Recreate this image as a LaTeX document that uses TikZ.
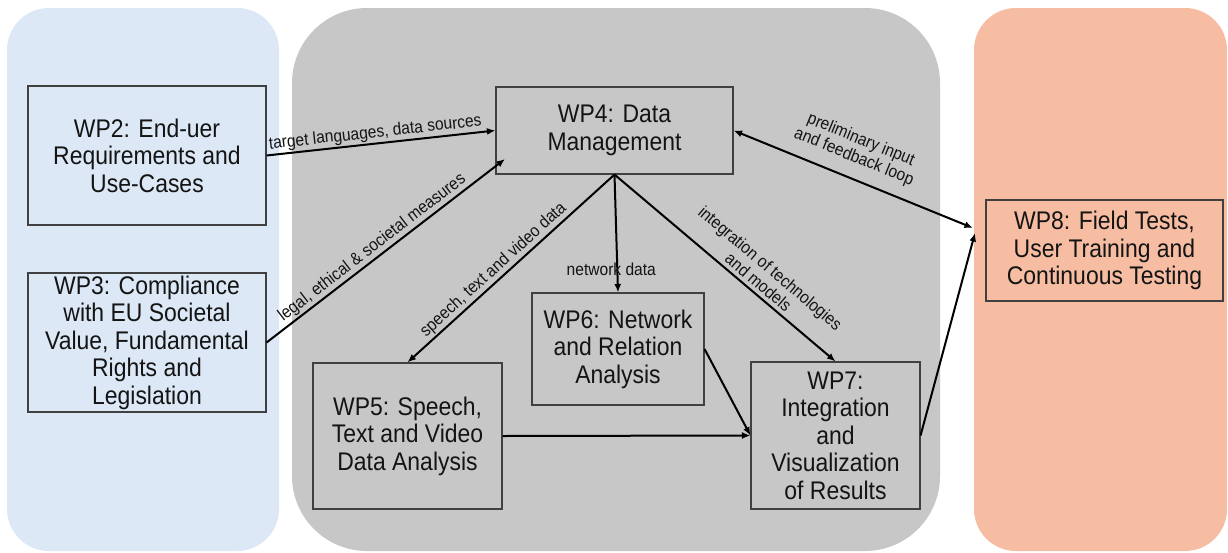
\documentclass[tikz,border=0pt]{standalone}
\usepackage{fontspec}
\newfontfamily\wpfont{Liberation Sans}[FakeStretch=0.9]
\usetikzlibrary{arrows.meta}
\definecolor{bluepanel}{RGB}{220,232,245}
\definecolor{graypanel}{RGB}{199,199,199}
\definecolor{orangepanel}{RGB}{246,189,163}
\definecolor{boxline}{RGB}{64,64,64}
\definecolor{txt}{RGB}{20,20,20}
\begin{document}
\begin{tikzpicture}[x=1pt,y=-1pt,
  wpbox/.style={draw=boxline, line width=1.1pt, align=center, inner sep=0pt,
    text=txt, font=\wpfont\fontsize{25.5}{27.5}\selectfont},
  lbl/.style={text=txt, align=center, font=\wpfont\fontsize{17.3}{18.5}\selectfont, inner sep=1.5pt},
  arr/.style={line width=2pt, -{Latex[length=8.5pt,width=7pt]}},
  darr/.style={line width=2pt, {Latex[length=8.5pt,width=7pt]}-{Latex[length=8.5pt,width=7pt]}}
]
\useasboundingbox (0,0) rectangle (1228,552);
\fill[white] (0,0) rectangle (1228,552);
% panels
\fill[bluepanel, rounded corners=42pt] (7,8) rectangle (279,551);
\fill[graypanel, rounded corners=75pt] (292,8) rectangle (940,551);
\fill[orangepanel, rounded corners=42pt] (974,8) rectangle (1227,551);
% boxes
\node[wpbox, minimum width=238pt, minimum height=139pt] (wp2) at (147,155.5)
  {WP2: End-uer\\Requirements and\\Use-Cases};
\node[wpbox, minimum width=238pt, minimum height=139pt] (wp3) at (147,342.5)
  {WP3: Compliance\\with EU Societal\\Value, Fundamental\\Rights and\\Legislation};
\node[wpbox, minimum width=237pt, minimum height=87pt] (wp4) at (614.5,130.5)
  {WP4: Data\\Management};
\node[wpbox, minimum width=189pt, minimum height=146pt] (wp5) at (407.5,436)
  {WP5: Speech,\\Text and Video\\Data Analysis};
\node[wpbox, minimum width=172pt, minimum height=112pt] (wp6) at (618,349)
  {WP6: Network\\and Relation\\Analysis};
\node[wpbox, minimum width=169pt, minimum height=147pt] (wp7) at (835.5,435.5)
  {WP7:\\Integration\\and\\Visualization\\of Results};
\node[wpbox, minimum width=237pt, minimum height=101pt] (wp8) at (1104.5,250.5)
  {WP8: Field Tests,\\User Training and\\Continuous Testing};
% free ends
\coordinate (t3) at (505,159);
\coordinate (t8a) at (973,228);
\coordinate (t8b) at (975,233);
% connectors
\draw[arr] (wp2.east) -- node[lbl, sloped, above, pos=0.48] {target languages, data sources} (wp4.west);
\draw[arr] (wp3.east) -- node[lbl, sloped, above, pos=0.47] {legal, ethical \& societal measures} (t3);
\draw[arr] (wp4.south) -- node[lbl, sloped, above, pos=0.55] {speech, text and video data} (wp5.north);
\draw[arr] (wp4.south) -- node[lbl, pos=0.8, xshift=-6pt] {network data} (wp6.north);
\draw[arr] (wp4.south) -- node[lbl, sloped, above=2pt, pos=0.62] {integration of technologies\\and models} (wp7.north);
\draw[darr] (wp4.east) -- node[lbl, sloped, above=10pt, pos=0.47] {preliminary input\\and feedback loop} (t8a);
\draw[arr] (wp5.east) -- (wp7.west);
\draw[arr] (wp6.east) -- (wp7.west);
\draw[arr] (wp7.east) -- (t8b);
\end{tikzpicture}
\end{document}
